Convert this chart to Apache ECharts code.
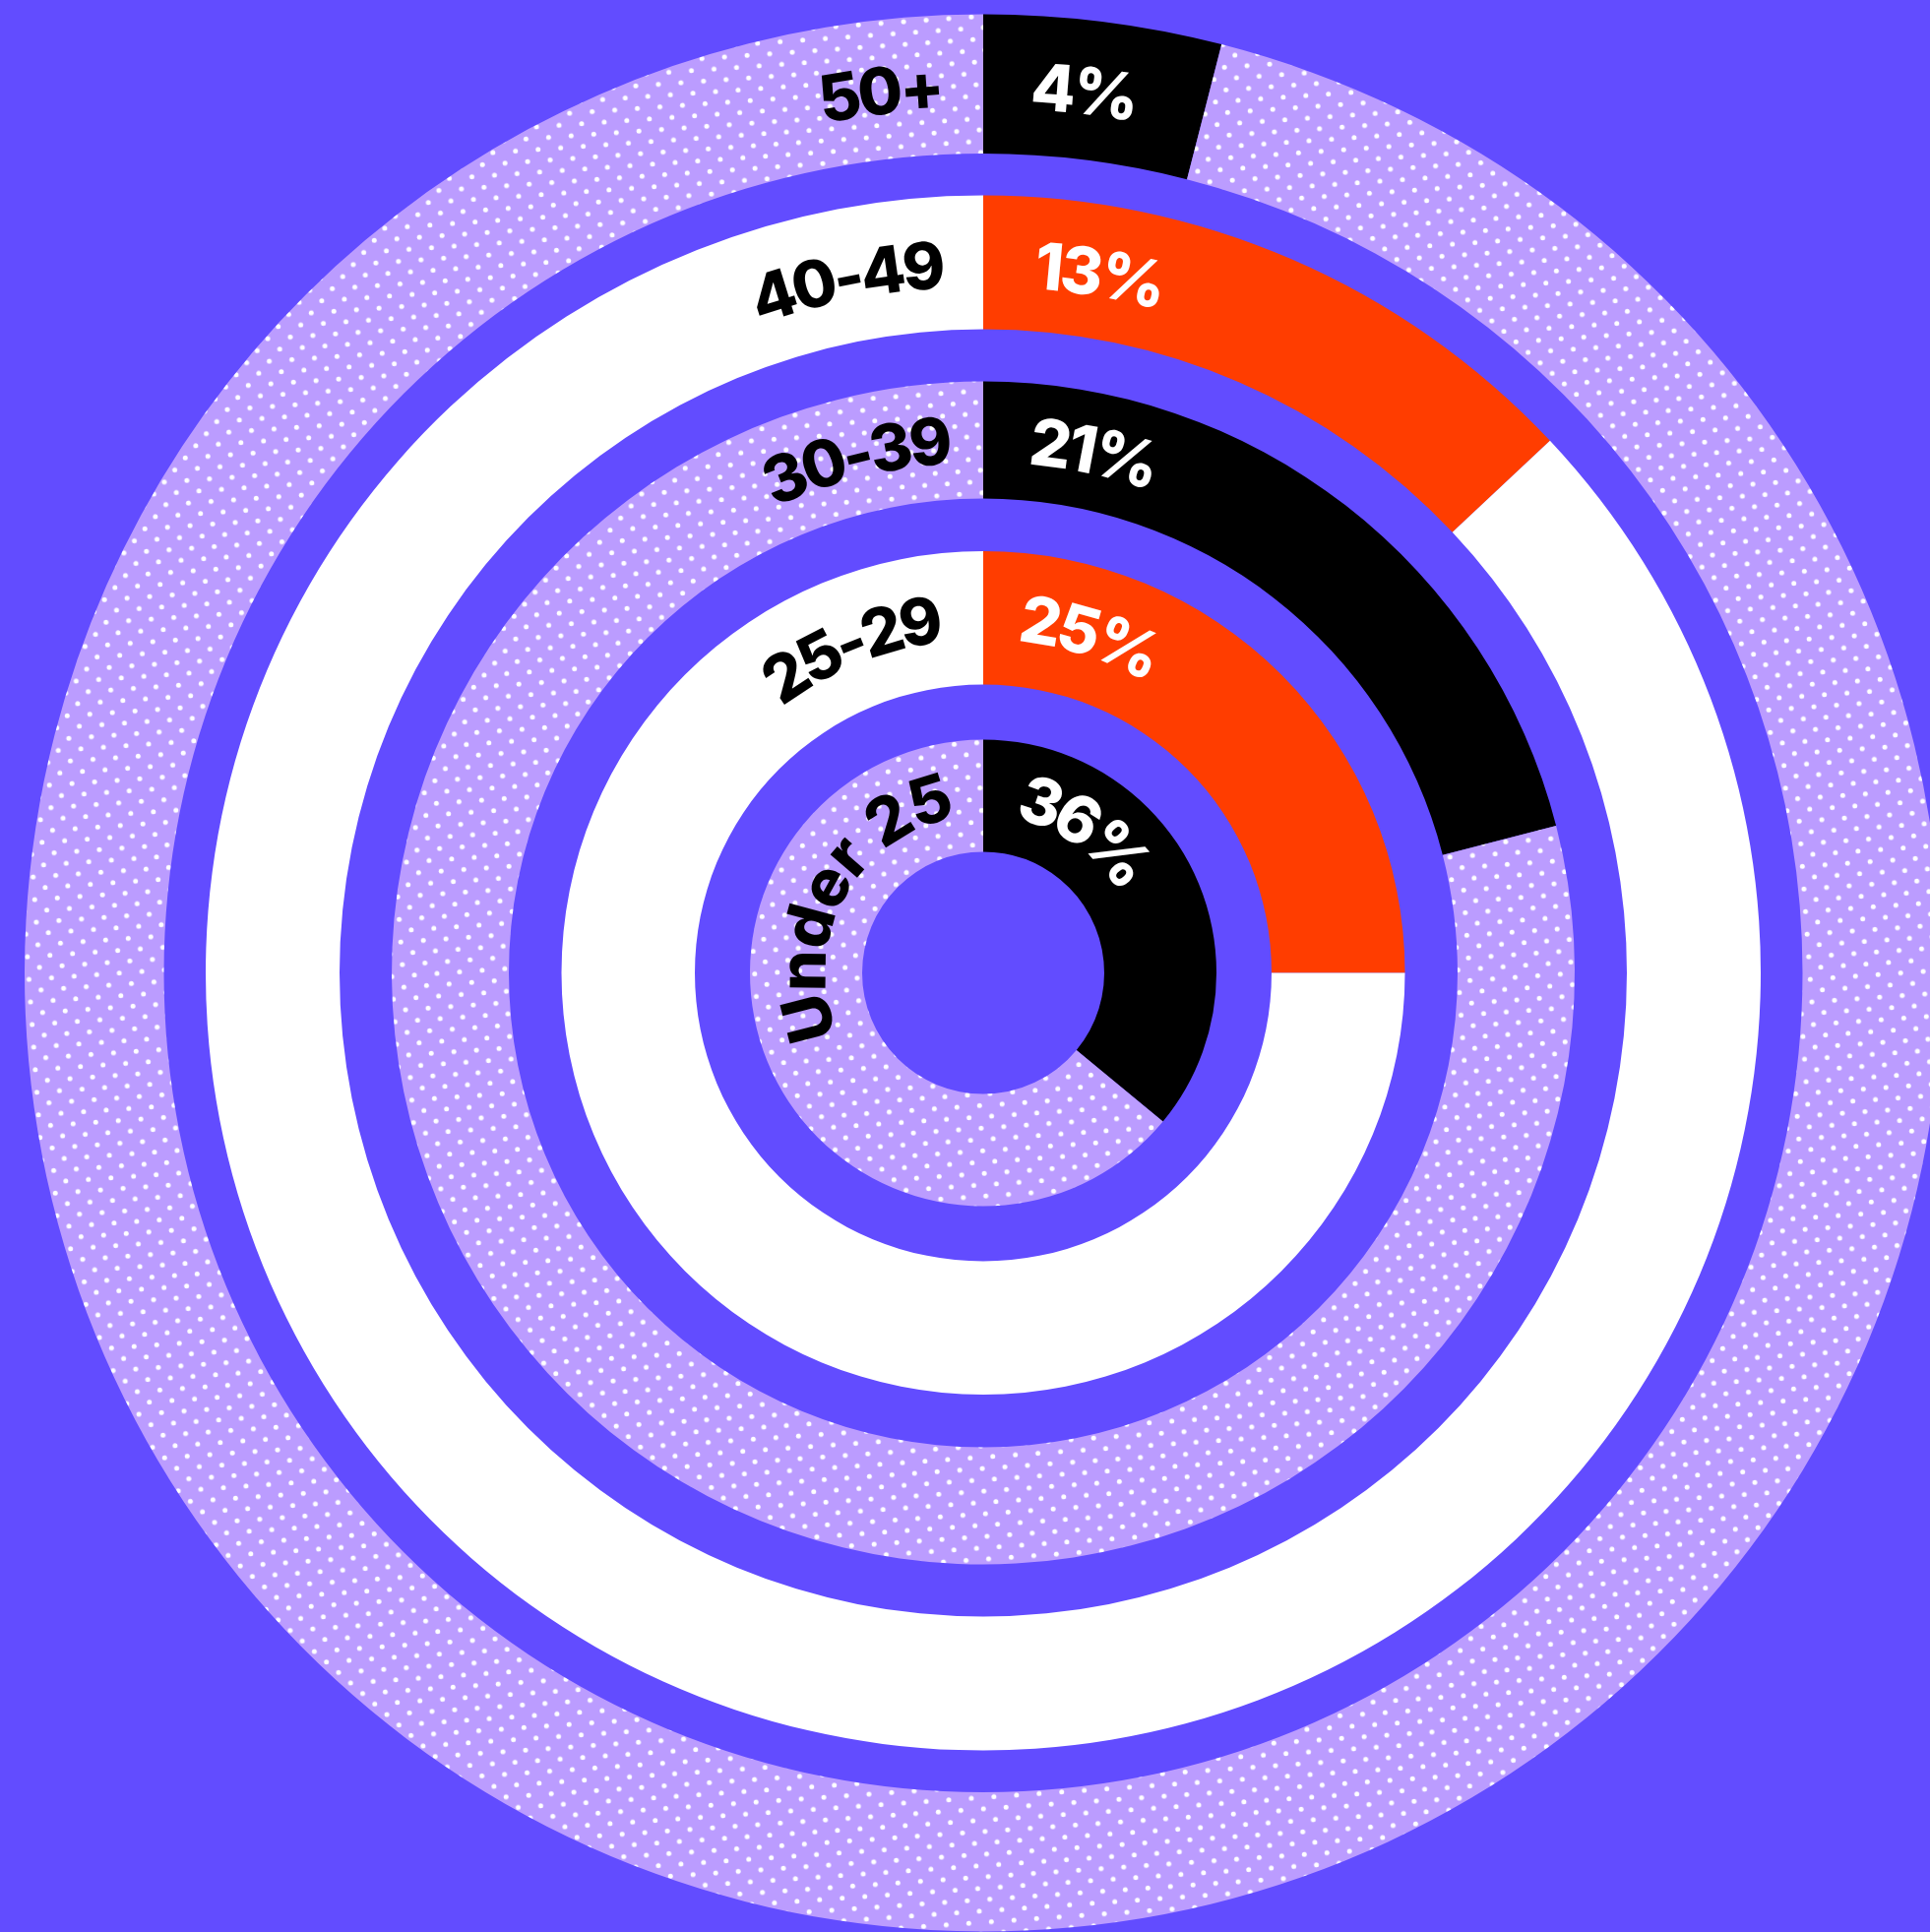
<!DOCTYPE html>
<html>
<head>
<meta charset="utf-8">
<script src="https://cdn.jsdelivr.net/npm/echarts@6/dist/echarts.min.js"></script>
<style>
html, body { margin: 0; padding: 0; background: #624cff; }
#chart { width: 1961px; height: 1963px; }
</style>
</head>
<body>
<div id="chart"></div>
<script>
// age groups, outer ring first
const groups = ['50+', '40-49', '30-39', '25-29', 'Under 25'];
const shares = [4, 13, 21, 25, 36];
const shareLabels = ['4%', '13%', '21%', '25%', '36%'];

// ring layout in px
const center = [999, 988.5];
const outerR = [974, 790, 601, 428.5, 237];
const innerR = [832.5, 654, 482, 293, 123];
const textShift = [-5, -5, -3, -2, 0]; // label radius vs ring middle
const gapLeft = [41, 40, 33, 43, 31];  // arc distance from 12 o'clock
const gapRight = [50, 54, 49, 39, 39];
const trackLeft = [-3, -3, -3, -3, 3];
const TRACK = -3;

const BG = '#624cff';
const LILAC = '#bb9cff';
const ORANGE = '#ff3d00';

// dotted fill for the "rest" of some rings
function dotCanvas() {
    const c = document.createElement('canvas');
    c.width = 23;
    c.height = 23;
    const g = c.getContext('2d');
    g.fillStyle = LILAC;
    g.fillRect(0, 0, 23, 23);
    g.fillStyle = '#fff';
    [[5.75, 5.75], [17.25, 17.25]].forEach(p => {
        g.beginPath();
        g.arc(p[0], p[1], 2.5, 0, Math.PI * 2);
        g.fill();
    });
    return c;
}
const dots = { image: dotCanvas(), repeat: 'repeat', rotation: -0.07 };

const shareColors = ['#000', ORANGE, '#000', ORANGE, '#000'];
const restColors = [dots, '#fff', dots, '#fff', dots];

const FONT = '800 66px Inter, "Liberation Sans", Arial, sans-serif';
const measureCtx = document.createElement('canvas').getContext('2d');
measureCtx.font = FONT;

// text laid out letter by letter along a circle
// side -1 : text ends gap before 12 o'clock, side 1 : starts gap after it
function arcText(text, r, side, gap, track, color) {
    const chars = Array.from(text);
    const widths = chars.map(ch => measureCtx.measureText(ch).width + track);
    const total = widths.reduce((a, b) => a + b, 0);
    let s = side < 0 ? -(gap + total) : gap;
    const children = chars.map((ch, k) => {
        const phi = (s + widths[k] / 2) / r;
        s += widths[k];
        return {
            type: 'text',
            x: center[0] + r * Math.sin(phi),
            y: center[1] - r * Math.cos(phi),
            rotation: -phi,
            style: {
                text: ch,
                font: FONT,
                fill: color,
                align: 'center',
                verticalAlign: 'middle'
            }
        };
    });
    return { type: 'group', children: children };
}

const ringSeries = groups.map((g, i) => ({
    type: 'pie',
    name: g,
    center: center,
    radius: [innerR[i], outerR[i]],
    startAngle: 90,
    clockwise: true,
    silent: true,
    animation: false,
    label: { show: false },
    labelLine: { show: false },
    emphasis: { disabled: true },
    itemStyle: { borderWidth: 0 },
    data: [
        { name: shareLabels[i], value: shares[i], itemStyle: { color: shareColors[i] } },
        { name: 'rest', value: 100 - shares[i], itemStyle: { color: restColors[i] } }
    ]
}));

const labelSeries = {
    type: 'custom',
    coordinateSystem: 'none',
    silent: true,
    animation: false,
    z: 5,
    data: groups.map((g, i) => [i]),
    renderItem: function (params) {
        const i = params.dataIndex;
        const r = (outerR[i] + innerR[i]) / 2 + textShift[i];
        return {
            type: 'group',
            children: [
                arcText(groups[i], r, -1, gapLeft[i], trackLeft[i], '#000'),
                arcText(shareLabels[i], r, 1, gapRight[i], TRACK, '#fff')
            ]
        };
    }
};

const chart = echarts.init(document.getElementById('chart'));
chart.setOption({
    backgroundColor: BG,
    animation: false,
    series: ringSeries.concat([labelSeries])
});
</script>
</body>
</html>
